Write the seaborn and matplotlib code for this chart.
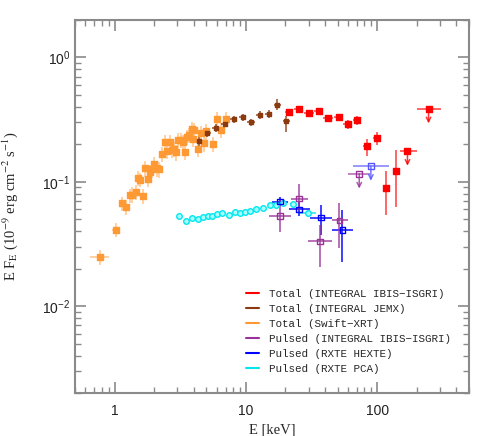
import numpy as np
import pandas as pd
import matplotlib
matplotlib.use("Agg")
import matplotlib.pyplot as plt
import matplotlib.ticker as mticker
from matplotlib.lines import Line2D
import seaborn as sns

# ---------------------------
# DATA
# ---------------------------
# Total flux, Swift-XRT
xrt_e = [0.78, 1.02, 1.145, 1.23, 1.32, 1.36, 1.45, 1.51, 1.55, 1.64, 1.72, 1.79, 1.85, 1.92,
         2.01, 2.10, 2.18, 2.31, 2.42, 2.51, 2.63, 2.72, 2.86, 2.96, 3.06, 3.18, 3.32, 3.44,
         3.57, 3.69, 3.87, 3.96, 4.06, 4.32, 4.56, 4.77, 5.01, 5.63, 6.04, 6.48, 7.04]
xrt_f = [0.0248, 0.0412, 0.067, 0.063, 0.078, 0.079, 0.083, 0.108, 0.104, 0.077, 0.128, 0.105,
         0.120, 0.126, 0.138, 0.128, 0.126, 0.166, 0.209, 0.177, 0.207, 0.180, 0.183, 0.172,
         0.217, 0.217, 0.209, 0.175, 0.231, 0.237, 0.265, 0.220, 0.262, 0.183, 0.246, 0.204,
         0.254, 0.203, 0.319, 0.260, 0.319]
xrt_ferr = [0.0035, 0.0055, 0.009, 0.009, 0.010, 0.011, 0.011, 0.015, 0.014, 0.011, 0.018, 0.015,
            0.017, 0.018, 0.019, 0.018, 0.018, 0.023, 0.029, 0.025, 0.029, 0.025, 0.026, 0.024,
            0.030, 0.030, 0.029, 0.025, 0.032, 0.033, 0.037, 0.031, 0.037, 0.026, 0.034, 0.029,
            0.036, 0.028, 0.045, 0.036, 0.045]
xrt_eerr = [0.13, 0.07, 0.02, 0.02, 0.02, 0.02, 0.02, 0.02, 0.02, 0.02, 0.03, 0.03, 0.03, 0.03,
            0.03, 0.03, 0.03, 0.04, 0.04, 0.04, 0.04, 0.04, 0.05, 0.05, 0.05, 0.05, 0.05, 0.05,
            0.06, 0.06, 0.06, 0.06, 0.06, 0.07, 0.07, 0.07, 0.08, 0.08, 0.09, 0.10, 0.10]

# Total flux, INTEGRAL JEMX
jemx_e = [4.4, 5.1, 5.9, 6.92, 8.06, 9.45, 10.98, 12.8, 15.0, 17.4, 20.3]
jemx_f = [0.213, 0.249, 0.271, 0.294, 0.318, 0.331, 0.300, 0.345, 0.350, 0.415, 0.309]
jemx_flo = [0.018, 0.02, 0.02, 0.02, 0.02, 0.02, 0.02, 0.025, 0.025, 0.04, 0.057]
jemx_fhi = [0.018, 0.02, 0.02, 0.02, 0.02, 0.02, 0.02, 0.025, 0.025, 0.045, 0.03]
jemx_eerr = [0.27, 0.3, 0.35, 0.4, 0.5, 0.6, 0.7, 0.8, 0.9, 1.0, 1.2]

# Total flux, INTEGRAL IBIS-ISGRI
isgri_e = [21.3, 25.4, 30.3, 36.0, 42.5, 50.8, 59.6, 70.7, 83.8, 99.4, 117.0, 138.0]
isgri_f = [0.367, 0.383, 0.358, 0.372, 0.323, 0.331, 0.290, 0.313, 0.194, 0.224, 0.0887, 0.122]
isgri_flo = [0.018, 0.018, 0.018, 0.018, 0.02, 0.022, 0.025, 0.028, 0.034, 0.027, 0.035, 0.059]
isgri_fhi = [0.018, 0.018, 0.018, 0.018, 0.02, 0.022, 0.025, 0.026, 0.026, 0.026, 0.033, 0.057]
isgri_eerr = [1.5, 2.0, 2.5, 3.0, 3.5, 4.0, 4.5, 5.0, 5.5, 6.0, 5.0, 6.0]
isgri_ul_e = [170.0, 246.0]
isgri_ul_f = [0.177, 0.388]
isgri_ul_elo = [21.0, 46.0]
isgri_ul_ehi = [30.0, 58.0]

# Pulsed flux, INTEGRAL IBIS-ISGRI
pisgri_e = [18.2, 25.5, 36.6, 51.5]
pisgri_f = [0.053, 0.0733, 0.0332, 0.049]
pisgri_flo = [0.0135, 0.0139, 0.0127, 0.0194]
pisgri_fhi = [0.020, 0.0219, 0.0118, 0.019]
pisgri_elo = [3.2, 3.6, 6.7, 6.5]
pisgri_ehi = [3.7, 4.4, 8.4, 8.5]
pisgri_ul_e = [73.0]
pisgri_ul_f = [0.116]
pisgri_ul_elo = [13.0]
pisgri_ul_ehi = [15.5]

# Pulsed flux, RXTE HEXTE
hexte_e = [18.2, 25.5, 37.3, 54.4]
hexte_f = [0.0693, 0.060, 0.0515, 0.041]
hexte_flo = [0.006, 0.0074, 0.0143, 0.0184]
hexte_fhi = [0.006, 0.0103, 0.0132, 0.0184]
hexte_elo = [2.5, 4.2, 6.5, 9.4]
hexte_ehi = [2.9, 5.3, 7.7, 10.6]
hexte_ul_e = [89.5]
hexte_ul_f = [0.134]
hexte_ul_elo = [24.5]
hexte_ul_ehi = [34.5]

# Pulsed flux, RXTE PCA
pca_e = [3.08, 3.52, 3.89, 4.32, 4.72, 5.16, 5.57, 5.98, 6.56, 7.38, 8.24, 9.05, 9.88,
         10.8, 11.9, 13.5, 15.3, 16.9, 19.1, 22.7, 29.9]
pca_f = [0.053, 0.0487, 0.0515, 0.050, 0.052, 0.0528, 0.0528, 0.0555, 0.0562, 0.0541, 0.0569,
         0.0562, 0.0569, 0.0587, 0.0606, 0.0612, 0.0648, 0.0648, 0.068, 0.0665, 0.0557]
pca_elo = [0.1, 0.1, 0.1, 0.1, 0.1, 0.1, 0.1, 0.1, 0.1, 0.15, 0.15, 0.2, 0.2,
           0.2, 0.25, 0.3, 0.3, 0.35, 0.4, 1.0, 4.1]
pca_ehi = [0.1, 0.1, 0.1, 0.1, 0.1, 0.1, 0.1, 0.1, 0.1, 0.15, 0.15, 0.2, 0.2,
           0.2, 0.25, 0.3, 0.3, 0.35, 0.4, 1.0, 4.4]
pca_ferr = [0.001, 0.001, 0.001, 0.001, 0.001, 0.001, 0.001, 0.001, 0.001, 0.001, 0.001,
            0.001, 0.001, 0.001, 0.001, 0.001, 0.0015, 0.0015, 0.002, 0.002, 0.004]

labels = ["Total (INTEGRAL IBIS\u2212ISGRI)", "Total (INTEGRAL JEMX)", "Total (Swift\u2212XRT)",
          "Pulsed (INTEGRAL IBIS\u2212ISGRI)", "Pulsed (RXTE HEXTE)", "Pulsed (RXTE PCA)"]
colors = ["#ff0000", "#8b3a0f", "#ff9933", "#993399", "#0000ff", "#00e5ee"]

# ---------------------------
# STYLE
# ---------------------------
sns.set_style("ticks")
plt.rcParams["font.family"] = ["Liberation Sans", "DejaVu Sans"]
plt.rcParams["mathtext.fontset"] = "stix"
spine_col = "#8a8a8a"

fig = plt.figure(figsize=(4.91, 4.36), dpi=100)
ax = fig.add_axes([0.1527, 0.0986, 0.8025, 0.8555])
ax.set_xscale("log")
ax.set_yscale("log")


def draw_points(x, y, xerr, yerr, color, marker, face, size, alpha=0.55):
    ax.errorbar(x, y, xerr=xerr, yerr=yerr, fmt="none", ecolor=color,
                elinewidth=1.4, alpha=alpha, zorder=2)
    d = pd.DataFrame({"E": x, "F": y})
    sns.scatterplot(data=d, x="E", y="F", ax=ax, marker=marker, s=size,
                    color=face, edgecolor=color, linewidth=1.0, zorder=3, legend=False)


def draw_limits(x, y, elo, ehi, color):
    ax.errorbar(x, y, xerr=[elo, ehi], fmt="none", ecolor=color, elinewidth=1.2,
                alpha=0.7, zorder=2)
    for xi, yi in zip(x, y):
        ax.annotate("", xy=(xi, yi * 0.76), xytext=(xi, yi),
                    arrowprops=dict(arrowstyle="->", color=color, lw=1.1,
                                    mutation_scale=8, shrinkA=0, shrinkB=0, alpha=0.8))


# Swift-XRT
draw_points(xrt_e, xrt_f, xrt_eerr, xrt_ferr, colors[2], "s", colors[2], 16, alpha=0.45)
# JEMX
draw_points(jemx_e, jemx_f, jemx_eerr, [jemx_flo, jemx_fhi], colors[1], "s", colors[1], 12, alpha=0.7)
# ISGRI total
draw_points(isgri_e, isgri_f, isgri_eerr, [isgri_flo, isgri_fhi], colors[0], "s", colors[0], 15, alpha=0.6)
draw_limits(isgri_ul_e, isgri_ul_f, isgri_ul_elo, isgri_ul_ehi, colors[0])
ax.scatter(isgri_ul_e, isgri_ul_f, marker="s", s=15, color=colors[0], zorder=3)
# PCA pulsed
draw_points(pca_e, pca_f, [pca_elo, pca_ehi], pca_ferr, colors[5], "o", "#aaffff", 16, alpha=0.7)
# HEXTE pulsed
draw_points(hexte_e, hexte_f, [hexte_elo, hexte_ehi], [hexte_flo, hexte_fhi], colors[4], "s", "none", 16, alpha=0.75)
draw_limits(hexte_ul_e, hexte_ul_f, hexte_ul_elo, hexte_ul_ehi, "#5555ff")
ax.scatter(hexte_ul_e, hexte_ul_f, marker="s", s=16, facecolor="none", edgecolor="#5555ff", zorder=3)
# ISGRI pulsed
draw_points(pisgri_e, pisgri_f, [pisgri_elo, pisgri_ehi], [pisgri_flo, pisgri_fhi], colors[3], "s", "none", 16, alpha=0.7)
draw_limits(pisgri_ul_e, pisgri_ul_f, pisgri_ul_elo, pisgri_ul_ehi, colors[3])
ax.scatter(pisgri_ul_e, pisgri_ul_f, marker="s", s=16, facecolor="none", edgecolor=colors[3], zorder=3)

# ---------------------------
# AXES
# ---------------------------
ax.set_xlim(0.5, 500)
ax.set_ylim(0.002, 2)
ax.xaxis.set_major_formatter(mticker.FuncFormatter(lambda v, p: "%g" % v))
ax.xaxis.set_minor_formatter(mticker.NullFormatter())
ax.yaxis.set_minor_formatter(mticker.NullFormatter())
ax.tick_params(which="both", direction="in", top=True, right=True, colors=spine_col,
               labelcolor="#222222", labelsize=10)
ax.tick_params(which="major", length=8, width=1.2)
ax.tick_params(which="minor", length=4, width=1.0)
ax.tick_params(axis="x", pad=8)
for s in ax.spines.values():
    s.set_color(spine_col)
    s.set_linewidth(1.5)

ax.set_ylabel(r"E F$_{\rm E}$ (10$^{-9}$ erg cm$^{-2}$ s$^{-1}$)", family="Liberation Serif",
              fontsize=10.5, labelpad=16)
ax.set_xlabel("E [keV]", family="Liberation Serif", fontsize=10.5, labelpad=4)

handles = [Line2D([0], [0], color=c, lw=1.5) for c in colors]
ax.legend(handles, labels, loc="upper left", bbox_to_anchor=(0.41, 0.305), frameon=False,
          handlelength=1.2, handletextpad=0.9, labelspacing=0.46,
          prop={"family": "Liberation Mono", "size": 7.8})

fig.savefig("out.png", dpi=100)
